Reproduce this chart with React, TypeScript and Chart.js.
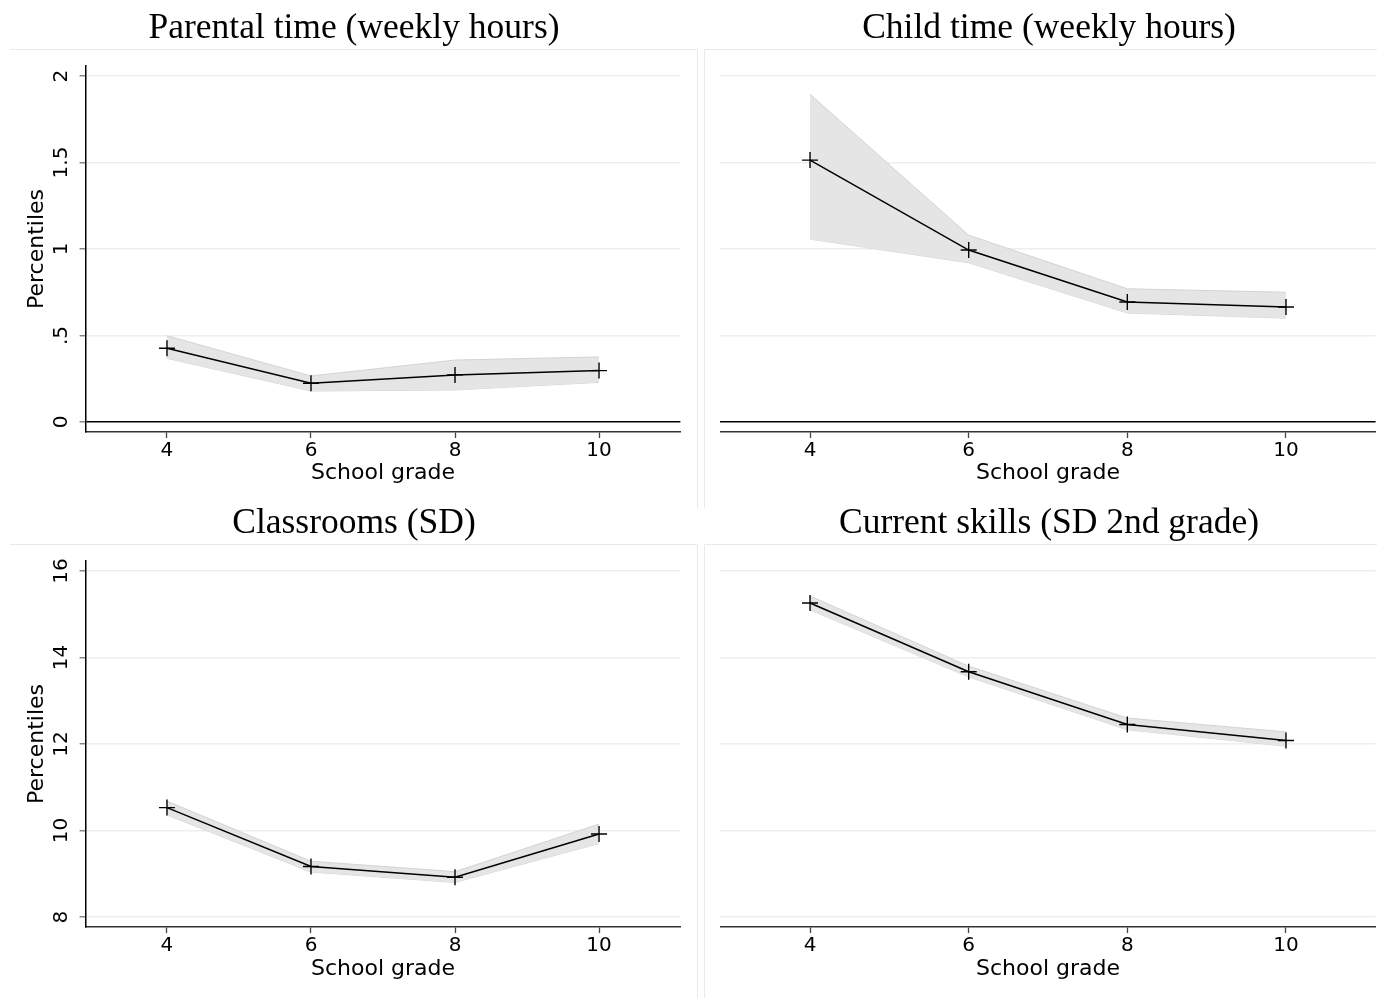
import React, { useEffect, useRef } from "react";
import { Chart, registerables } from "chart.js";

Chart.register(...registerables);

// ---------- DATA ----------
const grades = [4, 6, 8, 10];
const xTickLabels = ["4", "6", "8", "10"];

const parentalEst = [0.426, 0.224, 0.272, 0.297];
const parentalHi = [0.499, 0.266, 0.358, 0.376];
const parentalLo = [0.368, 0.179, 0.185, 0.229];

const childEst = [1.514, 0.994, 0.694, 0.665];
const childHi = [1.895, 1.08, 0.77, 0.75];
const childLo = [1.057, 0.92, 0.63, 0.6];

const classEst = [10.53, 9.17, 8.92, 9.92];
const classHi = [10.68, 9.29, 9.05, 10.15];
const classLo = [10.36, 9.04, 8.8, 9.7];

const skillsEst = [15.26, 13.67, 12.45, 12.08];
const skillsHi = [15.42, 13.8, 12.6, 12.28];
const skillsLo = [15.1, 13.55, 12.33, 11.95];

const topYTicks = [0, 0.5, 1, 1.5, 2];
const topYLabels = ["0", ".5", "1", "1.5", "2"];
const bottomYTicks = [8, 10, 12, 14, 16];
const bottomYLabels = ["8", "10", "12", "14", "16"];

const panelTitles = [
  "Parental time (weekly hours)",
  "Child time (weekly hours)",
  "Classrooms (SD)",
  "Current skills (SD 2nd grade)",
];
const xTitle = "School grade";
const yTitle = "Percentiles";

// ---------- PLUGIN ----------
const panelDecor = {
  id: "panelDecor",
  beforeDraw(chart: any, _args: any, opts: any) {
    const ctx = chart.ctx;
    ctx.save();
    ctx.strokeStyle = "#e3ebee";
    ctx.lineWidth = 1;
    const f = opts.frame;
    ctx.beginPath();
    // top edge
    ctx.moveTo(f.x0, f.y);
    ctx.lineTo(f.x1, f.y);
    // inner vertical edge
    ctx.moveTo(f.vx, f.y);
    ctx.lineTo(f.vx, f.y2);
    ctx.stroke();
    ctx.restore();
  },
  afterDraw(chart: any, _args: any, opts: any) {
    const ctx = chart.ctx;
    ctx.save();
    ctx.font = '35.5px "Liberation Serif"';
    ctx.fillStyle = "#000";
    ctx.textAlign = "center";
    ctx.textBaseline = "middle";
    ctx.fillText(opts.title, chart.width / 2, opts.titleY);
    ctx.restore();
  },
};

type PanelProps = {
  left: number;
  top: number;
  width: number;
  height: number;
  title: string;
  est: number[];
  hi: number[];
  lo: number[];
  yTicks: number[];
  yLabels: string[];
  yMin: number;
  yMax: number;
  showY: boolean;
  zero: boolean;
  yAxisW: number;
  padRight: number;
  xAxisH: number;
  xTitlePad: number;
  yTickPad: number;
  frame: { x0: number; x1: number; y: number; vx: number; y2: number };
};

function Panel(p: PanelProps) {
  const ref = useRef<HTMLCanvasElement | null>(null);
  useEffect(() => {
    if (!ref.current) return;
    const pts = (ys: number[]) => grades.map((g, i) => ({ x: g, y: ys[i] }));
    const tickFont = { family: "DejaVu Sans", size: 20 };
    const titleFont = { family: "DejaVu Sans", size: 22 };
    const chart = new Chart(ref.current, {
      type: "line",
      data: {
        datasets: [
          {
            data: pts(p.est),
            borderColor: "#000",
            borderWidth: 1.5,
            pointStyle: "cross",
            pointRadius: 8,
            pointBorderWidth: 1.4,
            pointBorderColor: "#000",
            pointBackgroundColor: "#000",
            fill: false,
            tension: 0,
          },
          {
            data: pts(p.hi),
            borderColor: "#d3d3d3",
            borderWidth: 1,
            pointRadius: 0,
            fill: "+1",
            backgroundColor: "#e5e5e5",
            tension: 0,
          },
          {
            data: pts(p.lo),
            borderColor: "#d3d3d3",
            borderWidth: 1,
            pointRadius: 0,
            fill: false,
            tension: 0,
          },
        ],
      } as any,
      options: {
        responsive: false,
        animation: false,
        devicePixelRatio: 1,
        layout: { padding: { top: 66, right: p.padRight, bottom: 0, left: 0 } },
        plugins: {
          legend: { display: false },
          tooltip: { enabled: false },
          title: { display: false },
          panelDecor: { title: p.title, titleY: 29, frame: p.frame },
        } as any,
        scales: {
          x: {
            type: "linear",
            min: 2.87,
            max: 11.13,
            afterBuildTicks: (s: any) => {
              s.ticks = grades.map((v) => ({ value: v }));
            },
            afterFit: (s: any) => {
              s.height = p.xAxisH;
            },
            ticks: {
              autoSkip: false,
              maxRotation: 0,
              padding: 1,
              color: "#000",
              font: tickFont,
              callback: (_v: any, i: number) => xTickLabels[i],
            },
            grid: {
              display: true,
              drawOnChartArea: false,
              drawTicks: true,
              tickLength: 6,
              tickColor: "#444",
              tickWidth: 1.3,
            },
            border: { display: true, color: "#333", width: 1.5 },
            title: {
              display: true,
              text: xTitle,
              color: "#000",
              font: titleFont,
              padding: { top: 0, bottom: p.xTitlePad },
            },
          },
          y: {
            type: "linear",
            min: p.yMin,
            max: p.yMax,
            afterBuildTicks: (s: any) => {
              s.ticks = p.yTicks.map((v) => ({ value: v }));
            },
            afterFit: (s: any) => {
              s.width = p.yAxisW;
            },
            ticks: {
              display: p.showY,
              autoSkip: false,
              minRotation: 90,
              maxRotation: 90,
              crossAlign: "center",
              padding: p.yTickPad,
              color: "#000",
              font: tickFont,
              callback: (_v: any, i: number) => p.yLabels[i],
            },
            grid: {
              display: true,
              drawOnChartArea: true,
              drawTicks: p.showY,
              tickLength: 6,
              tickWidth: 1.3,
              tickColor: "#777",
              color: (c: any) =>
                p.zero && c.tick && c.tick.value === 0 ? "#000" : "#e8f0f1",
              lineWidth: (c: any) =>
                p.zero && c.tick && c.tick.value === 0 ? 1.6 : 1.5,
            },
            border: { display: p.showY, color: "#000", width: 1.5 },
            title: {
              display: p.showY,
              text: yTitle,
              color: "#000",
              font: titleFont,
              padding: { top: 15.8, bottom: 0 },
            },
          },
        },
      } as any,
      plugins: [panelDecor as any],
    });
    return () => chart.destroy();
  }, []);
  return (
    <canvas
      ref={ref}
      width={p.width}
      height={p.height}
      style={{
        position: "absolute",
        left: p.left,
        top: p.top,
        width: p.width,
        height: p.height,
      }}
    />
  );
}

export default function App() {
  return (
    <div
      style={{
        position: "fixed",
        left: 0,
        top: 0,
        width: 1377,
        height: 998,
        overflow: "hidden",
        background: "#fff",
      }}
    >
      <Panel
        left={8}
        top={0}
        width={692}
        height={508}
        title={panelTitles[0]}
        est={parentalEst}
        hi={parentalHi}
        lo={parentalLo}
        yTicks={topYTicks}
        yLabels={topYLabels}
        yMin={-0.058}
        yMax={2.058}
        showY={true}
        zero={true}
        yAxisW={77.6}
        padRight={19.6}
        xAxisH={76}
        xTitlePad={21.8}
        yTickPad={2.2}
        frame={{ x0: 2, x1: 689.5, y: 49.5, vx: 689.5, y2: 508 }}
      />
      <Panel
        left={700}
        top={0}
        width={698}
        height={508}
        title={panelTitles[1]}
        est={childEst}
        hi={childHi}
        lo={childLo}
        yTicks={topYTicks}
        yLabels={topYLabels}
        yMin={-0.058}
        yMax={2.058}
        showY={false}
        zero={true}
        yAxisW={20.4}
        padRight={22.4}
        xAxisH={76}
        xTitlePad={21.8}
        yTickPad={2.2}
        frame={{ x0: 4.5, x1: 698, y: 49.5, vx: 4.5, y2: 508 }}
      />
      <Panel
        left={8}
        top={495}
        width={692}
        height={503}
        title={panelTitles[2]}
        est={classEst}
        hi={classHi}
        lo={classLo}
        yTicks={bottomYTicks}
        yLabels={bottomYLabels}
        yMin={7.77}
        yMax={16.23}
        showY={true}
        zero={false}
        yAxisW={77.6}
        padRight={19.6}
        xAxisH={71}
        xTitlePad={15.8}
        yTickPad={5.4}
        frame={{ x0: 2, x1: 689.5, y: 49.5, vx: 689.5, y2: 503 }}
      />
      <Panel
        left={700}
        top={495}
        width={698}
        height={503}
        title={panelTitles[3]}
        est={skillsEst}
        hi={skillsHi}
        lo={skillsLo}
        yTicks={bottomYTicks}
        yLabels={bottomYLabels}
        yMin={7.77}
        yMax={16.23}
        showY={false}
        zero={false}
        yAxisW={20.4}
        padRight={22.4}
        xAxisH={71}
        xTitlePad={15.8}
        yTickPad={5.4}
        frame={{ x0: 4.5, x1: 698, y: 49.5, vx: 4.5, y2: 503 }}
      />
    </div>
  );
}
